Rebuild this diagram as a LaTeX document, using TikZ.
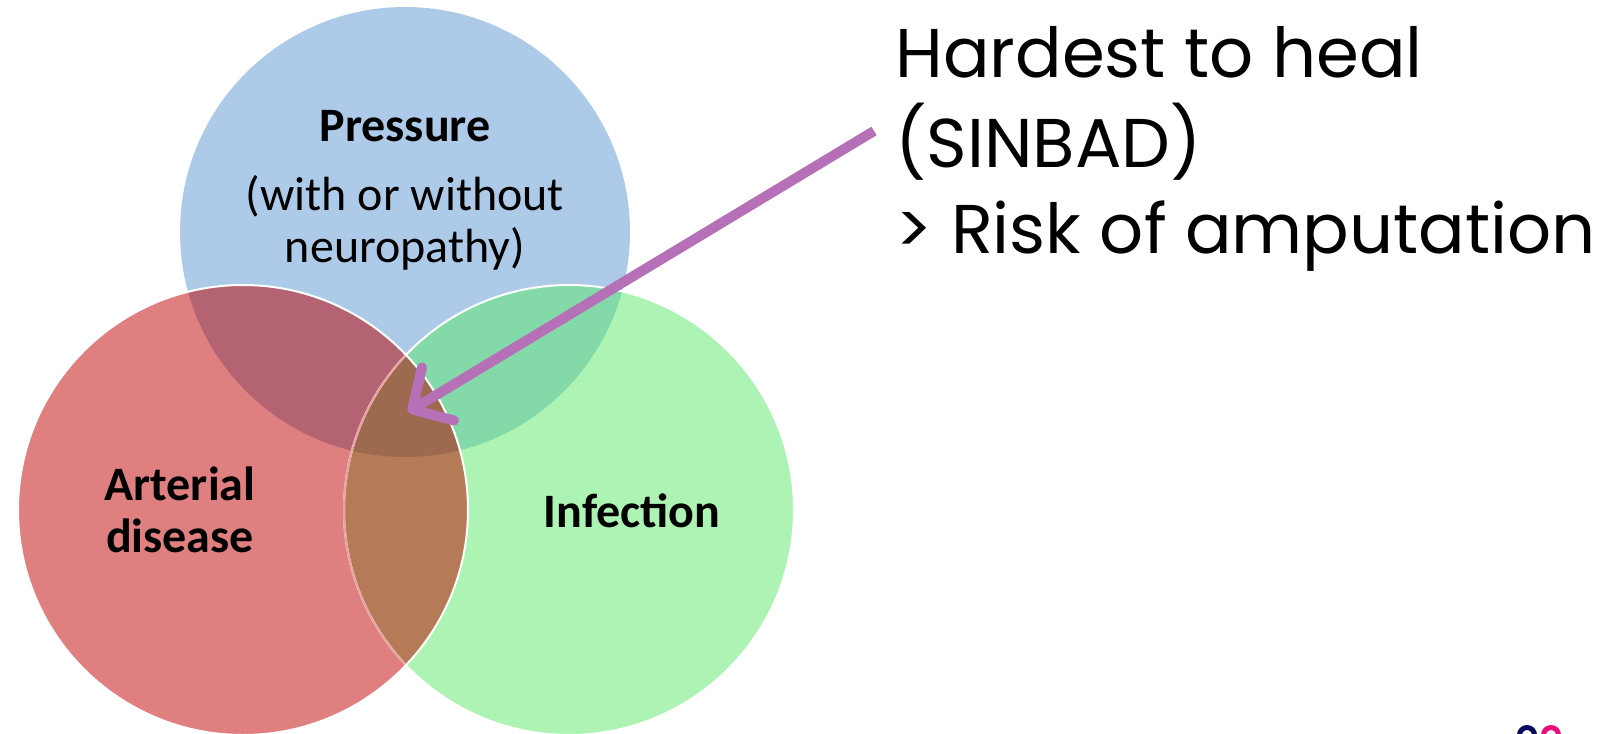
\documentclass[tikz,border=0pt]{standalone}
\usepackage{fontspec}
\setmainfont{Carlito}
\newfontfamily\rfont{Poppins}
\usetikzlibrary{arrows.meta,positioning}
\definecolor{pblue}{HTML}{ADCBE9}
\definecolor{ared}{HTML}{E07F7F}
\definecolor{igreen}{HTML}{ADF4B4}
\definecolor{parcol}{HTML}{B36371}
\definecolor{picol}{HTML}{83DAA8}
\definecolor{aicol}{HTML}{B57B57}
\definecolor{allcol}{HTML}{9E6A4F}
\definecolor{edgered}{HTML}{E8A3A3}
\definecolor{apurple}{HTML}{B570B8}
\definecolor{logonavy}{HTML}{0B0B5C}
\definecolor{logopink}{HTML}{EC0C7C}
\tikzset{
	kreis/.style={line width=1pt},
	lab/.style={font=\fontsize{24}{26}\selectfont, align=center, inner sep=0pt},
	blab/.style={lab, font=\fontsize{24}{26}\selectfont\bfseries},
	rtext/.style={font=\rfont\fontsize{34.5}{40}\selectfont, anchor=base west, inner sep=0pt},
	pfeil/.style={draw=apurple, line width=5pt, -{Straight Barb[length=15pt,width=31pt,round]}},
}
\begin{document}
\begin{tikzpicture}[x=0.5pt,y=-0.5pt]
	\useasboundingbox[fill=white] (0,0) rectangle (1608,734);
	% Kreise
		\coordinate (p) at (405,232);
		\coordinate (a) at (243,510);
		\coordinate (i) at (569,510);
		\fill[pblue] (p) circle (112.5pt);
		\fill[igreen] (i) circle (112.5pt);
		\fill[ared] (a) circle (112.5pt);
		\begin{scope}
			\clip (p) circle (112.5pt);
			\fill[picol] (i) circle (112.5pt);
			\fill[parcol] (a) circle (112.5pt);
		\end{scope}
		\begin{scope}
			\clip (a) circle (112.5pt);
			\fill[aicol] (i) circle (112.5pt);
			\clip (p) circle (112.5pt);
			\fill[allcol] (i) circle (112.5pt);
		\end{scope}
	% Raender
		\draw[kreis, white] (i) circle (112.5pt);
		\begin{scope}
			\clip (a) circle (112.5pt);
			\draw[kreis, edgered] (i) circle (112.5pt);
		\end{scope}
		\draw[kreis, white] (a) circle (112.5pt);
	% Beschriftung
		\node[blab] (pressure) at (405,126) {Pressure};
		\node[lab] (neuro) at (405,223) {(with or without\\neuropathy)};
		\node[blab] (arterial) at (180,510) {Arterial\\disease};
		\node[blab] (infection) at (632,511) {Infection};
	% Text rechts
		\node[rtext] (hardest) at (895,77) {Hardest to heal};
		\node[rtext] (sinbad) at (895,167) {(SINBAD)};
		\node[rtext] (risk) at (895,253) {> Risk of amputation};
	% Pfeil
		\coordinate (start) at (874,131);
		\coordinate (ziel) at (408,412);
		\draw[pfeil] (start) -- (ziel);
	% Logo
		\draw[logonavy, line width=2.5pt] (1527,735) circle (3.75pt);
		\draw[logopink, line width=2.5pt] (1551,735) circle (3.75pt);
\end{tikzpicture}
\end{document}
